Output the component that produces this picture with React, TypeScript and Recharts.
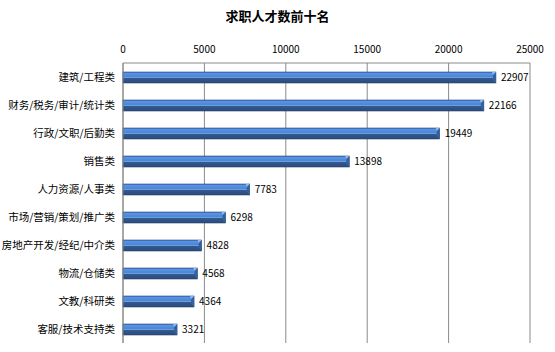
import { BarChart, Bar, XAxis, YAxis, CartesianGrid, LabelList } from "recharts";

const categories = [
  "建筑/工程类",
  "财务/税务/审计/统计类",
  "行政/文职/后勤类",
  "销售类",
  "人力资源/人事类",
  "市场/营销/策划/推广类",
  "房地产开发/经纪/中介类",
  "物流/仓储类",
  "文教/科研类",
  "客服/技术支持类",
];
const counts = [22907, 22166, 19449, 13898, 7783, 6298, 4828, 4568, 4364, 3321];
const xTicks = [0, 5000, 10000, 15000, 20000, 25000];

const data = categories.map((name, i) => ({ name, value: counts[i] }));

const font = "'Noto Sans CJK SC', 'DejaVu Sans', sans-serif";

// bar with a bevelled right end, like the old excel 3d bars
const BevelBar = (props: any) => {
  const { x, y, width, height } = props;
  if (!width || width <= 0) return null;
  const b = 3;
  const r = x + width;
  return (
    <g>
      <rect x={x} y={y} width={width} height={height} fill="url(#barFill)" stroke="#27487a" strokeWidth={0.6} />
      <polygon
        points={`${r - b},${y + b} ${r},${y} ${r},${y + height} ${r - b},${y + height - b}`}
        fill="#34609e"
      />
      <polygon points={`${r - b},${y + b} ${r},${y} ${r - b - 1},${y}`} fill="#8fb6ea" />
    </g>
  );
};

export default function App() {
  return (
    <div style={{ position: "absolute", left: 0, top: 0, width: 555, height: 352, background: "#fff", fontFamily: font }}>
      <div
        style={{
          position: "absolute",
          top: 6,
          left: 0,
          width: 555,
          textAlign: "center",
          fontSize: 13,
          fontWeight: "bold",
          color: "#000",
        }}
      >
        求职人才数前十名
      </div>
      <BarChart
        width={555}
        height={352}
        data={data}
        layout="vertical"
        margin={{ top: 38, right: 25, bottom: 9, left: 5 }}
        barCategoryGap={8}
      >
        <defs>
          <linearGradient id="barFill" x1="0" y1="0" x2="0" y2="1">
            <stop offset="0%" stopColor="#3f78c8" />
            <stop offset="15%" stopColor="#5b95e2" />
            <stop offset="40%" stopColor="#4a86d6" />
            <stop offset="50%" stopColor="#6a9ee4" />
            <stop offset="58%" stopColor="#34598f" />
            <stop offset="100%" stopColor="#2a4a78" />
          </linearGradient>
        </defs>
        <CartesianGrid vertical horizontal={false} stroke="#8a8a8a" />
        <XAxis
          type="number"
          orientation="top"
          domain={[0, 25000]}
          ticks={xTicks}
          interval={0}
          height={25}
          axisLine={{ stroke: "#8a8a8a" }}
          tickLine={false}
          tick={{ fontSize: 10, fill: "#000", fontFamily: font }}
          tickMargin={4}
        />
        <YAxis
          type="category"
          dataKey="name"
          width={118}
          axisLine={{ stroke: "#8a8a8a" }}
          tickLine={false}
          tick={{ fontSize: 10.5, fill: "#000", fontFamily: font }}
          tickMargin={2}
        />
        <Bar dataKey="value" barSize={11} shape={BevelBar} isAnimationActive={false}>
          <LabelList dataKey="value" position="right" offset={5} style={{ fontSize: 10, fill: "#000", fontFamily: font }} />
        </Bar>
      </BarChart>
    </div>
  );
}
